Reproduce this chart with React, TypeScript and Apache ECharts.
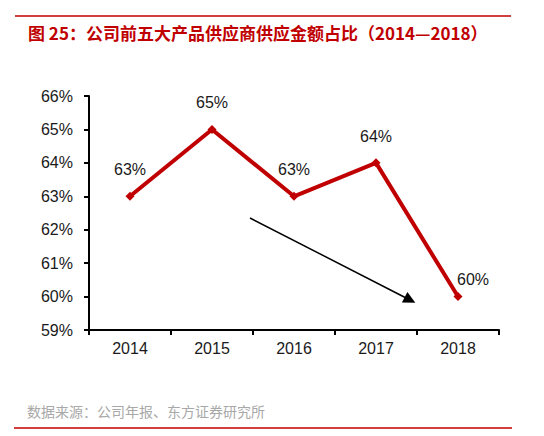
import { useEffect, useRef } from 'react'
import * as echarts from 'echarts'

const years = ['2014', '2015', '2016', '2017', '2018']
const shares = [63, 65, 63, 64, 60]
const yMin = 59
const yMax = 66

const RED = '#C00000'

export default function App() {
  const ref = useRef<HTMLDivElement>(null)

  useEffect(() => {
    if (!ref.current) return
    const chart = echarts.init(ref.current, undefined, { renderer: 'svg' })
    const font = '"Liberation Sans", Arial, sans-serif'
    const cjk = '"Noto Sans CJK SC", sans-serif'

    chart.setOption({
      animation: false,
      backgroundColor: '#fff',
      grid: { left: 89, right: 45, top: 96, bottom: 106 },
      xAxis: {
        type: 'category',
        data: years,
        boundaryGap: true,
        axisLine: { lineStyle: { color: '#000', width: 2 } },
        axisTick: { show: true, length: 5, lineStyle: { color: '#000', width: 2 } },
        axisLabel: { color: '#1a1a1a', fontSize: 16, fontFamily: font, margin: 10 },
      },
      yAxis: {
        type: 'value',
        min: yMin,
        max: yMax,
        interval: 1,
        axisLine: { show: true, lineStyle: { color: '#000', width: 2 } },
        axisTick: { show: true, length: 5, lineStyle: { color: '#000', width: 2 } },
        splitLine: { show: false },
        axisLabel: {
          color: '#1a1a1a',
          fontSize: 16,
          fontFamily: font,
          margin: 16,
          formatter: '{value}%',
        },
      },
      series: [
        {
          type: 'line',
          data: shares.map((v, i) =>
            i === shares.length - 1
              ? { value: v, label: { position: 'top', distance: 5, offset: [15, 0] } }
              : v
          ),
          symbol: 'diamond',
          symbolSize: 9,
          lineStyle: { color: RED, width: 4 },
          itemStyle: { color: RED },
          label: {
            show: true,
            position: 'top',
            distance: 14,
            color: '#1a1a1a',
            fontSize: 16,
            fontFamily: font,
            formatter: '{c}%',
          },
          markLine: {
            silent: true,
            symbol: ['none', 'triangle'],
            symbolSize: [12, 12],
            label: { show: false },
            lineStyle: { color: '#000', width: 1.5, type: 'solid' },
            data: [[{ x: 250, y: 218 }, { x: 410, y: 300 }]],
          },
        },
      ],
      graphic: [
        {
          type: 'line',
          shape: { x1: 15, y1: 16, x2: 511, y2: 16 },
          style: { stroke: RED, lineWidth: 1.5 },
        },
        {
          type: 'text',
          left: 28,
          top: 24,
          style: {
            text: '图 25：公司前五大产品供应商供应金额占比（2014—2018）',
            fill: RED,
            font: `bold 17px ${cjk}`,
          },
        },
        {
          type: 'text',
          left: 27,
          top: 404,
          style: {
            text: '数据来源：公司年报、东方证券研究所',
            fill: '#a8a8a8',
            font: `14px ${cjk}`,
          },
        },
        {
          type: 'line',
          shape: { x1: 14, y1: 428, x2: 512, y2: 428 },
          style: { stroke: RED, lineWidth: 1.5 },
        },
      ],
    })

    return () => chart.dispose()
  }, [])

  return (
    <div
      ref={ref}
      style={{ position: 'fixed', left: 0, top: 0, width: 544, height: 436 }}
    />
  )
}
